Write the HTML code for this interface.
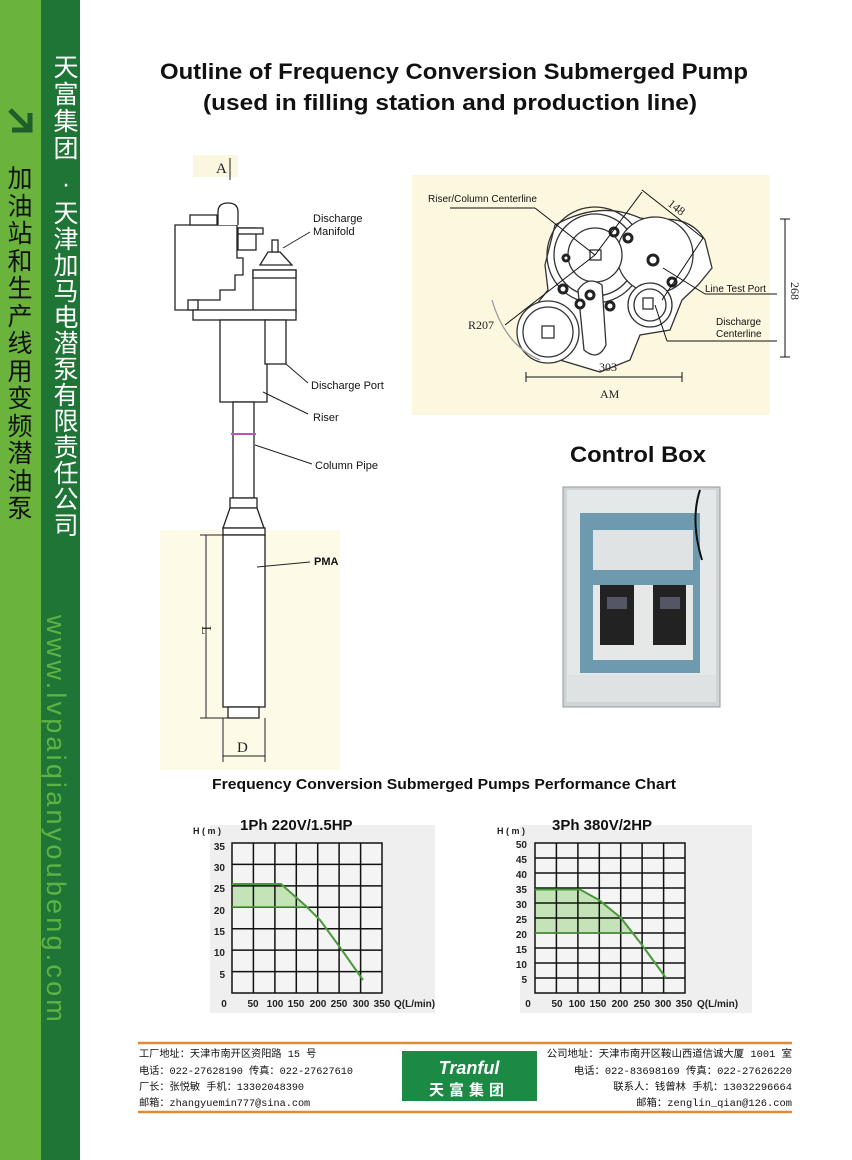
<!DOCTYPE html>
<html><head><meta charset="utf-8"><style>
html,body{margin:0;padding:0;background:#fff;}
svg{display:block;}
</style></head><body>
<svg width="852" height="1160" viewBox="0 0 852 1160" xmlns="http://www.w3.org/2000/svg" font-family="Liberation Sans, sans-serif">
<!-- sidebar -->
<rect x="0" y="0" width="41" height="1160" fill="#6ab33d"/>
<rect x="41" y="0" width="39" height="1160" fill="#1e7535"/>
<path d="M10 110 L30 130 M12 130 L30 130 L30 113" stroke="#1e5e2a" stroke-width="5" fill="none"/>
<g font-family="Liberation Sans, Noto Sans CJK SC, sans-serif" font-size="25" fill="#111" text-anchor="middle">
<text x="20" y="187">加</text><text x="20" y="215">油</text><text x="20" y="242">站</text><text x="20" y="270">和</text><text x="20" y="297">生</text><text x="20" y="325">产</text><text x="20" y="352">线</text><text x="20" y="380">用</text><text x="20" y="407">变</text><text x="20" y="435">频</text><text x="20" y="462">潜</text><text x="20" y="490">油</text><text x="20" y="517">泵</text>
</g>
<g font-family="Liberation Sans, Noto Sans CJK SC, sans-serif" font-size="25" fill="#fff" text-anchor="middle">
<text x="66" y="76">天</text><text x="66" y="103">富</text><text x="66" y="130">集</text><text x="66" y="157">团</text><text x="66" y="192">·</text>
<text x="66" y="222">天</text><text x="66" y="248">津</text><text x="66" y="274">加</text><text x="66" y="300">马</text><text x="66" y="326">电</text><text x="66" y="352">潜</text><text x="66" y="378">泵</text><text x="66" y="404">有</text><text x="66" y="430">限</text><text x="66" y="456">责</text><text x="66" y="482">任</text><text x="66" y="508">公</text><text x="66" y="534">司</text>
</g>
<text transform="translate(47,615) rotate(90)" font-size="27" fill="#5fb244" letter-spacing="3.2">www.lvpaiqianyoubeng.com</text>

<!-- title -->
<text x="160" y="79" font-size="22" font-weight="bold" fill="#111" textLength="588" lengthAdjust="spacingAndGlyphs">Outline of Frequency Conversion Submerged Pump</text>
<text x="203" y="110" font-size="22" font-weight="bold" fill="#111" textLength="494" lengthAdjust="spacingAndGlyphs">(used in filling station and production line)</text>

<!-- pump side view -->
<rect x="193" y="155" width="45" height="22" fill="#fbf6df"/>
<text x="216" y="173" font-family="Liberation Serif, serif" font-size="15" fill="#222">A</text>
<line x1="230" y1="158" x2="230" y2="180" stroke="#222" stroke-width="1"/>
<rect x="160" y="530" width="180" height="240" fill="#fdfae8"/>
<g stroke="#222" stroke-width="1.3" fill="#fff">
<path d="M175 225 L237 225 L237 258 L243 258 L243 275 L235 275 L235 290 L220 290 L220 300 L200 300 L200 300 L193 300 L193 310 L175 310 Z"/>
<path d="M190 215 L217 215 L217 225 L190 225 Z"/>
<path d="M218 225 L218 212 Q218 203 228 203 Q238 203 238 212 L238 225"/>
<rect x="238" y="228" width="18" height="22"/>
<rect x="238" y="228" width="25" height="6"/>
<path d="M260 265 L268 252 L280 252 L292 265 Z"/>
<rect x="272" y="240" width="6" height="12"/>
<rect x="253" y="270" width="43" height="42"/>
<rect x="253" y="270" width="43" height="8"/>
<rect x="188" y="300" width="10" height="10"/>
<rect x="193" y="310" width="103" height="10"/>
<rect x="220" y="320" width="47" height="82"/>
<rect x="265" y="320" width="21" height="44"/>
<rect x="233" y="402" width="21" height="96"/>
<rect x="230" y="498" width="27" height="10"/>
<path d="M230 508 L223 528 L264 528 L257 508 Z"/>
<rect x="223" y="528" width="42" height="7"/>
<rect x="223" y="535" width="42" height="172"/>
<rect x="228" y="707" width="31" height="11"/>
</g>
<line x1="231" y1="434" x2="256" y2="434" stroke="#c050c0" stroke-width="2"/>
<g stroke="#222" stroke-width="1" fill="none">
<line x1="206" y1="535" x2="206" y2="718"/><line x1="200" y1="535" x2="223" y2="535"/><line x1="200" y1="718" x2="228" y2="718"/>
<line x1="223" y1="718" x2="223" y2="762"/><line x1="265" y1="718" x2="265" y2="762"/><line x1="223" y1="756" x2="265" y2="756"/>
<line x1="283" y1="248" x2="310" y2="232"/>
<line x1="286" y1="364" x2="308" y2="383"/>
<line x1="263" y1="392" x2="308" y2="414"/>
<line x1="255" y1="445" x2="312" y2="464"/>
<line x1="257" y1="567" x2="310" y2="562"/>
</g>
<text transform="translate(202,626) rotate(90)" font-family="Liberation Serif, serif" font-size="14" fill="#222">L</text>
<text x="237" y="752" font-family="Liberation Serif, serif" font-size="15" fill="#222">D</text>
<g font-size="11" fill="#111">
<text x="313" y="222">Discharge</text><text x="313" y="235">Manifold</text>
<text x="311" y="389">Discharge  Port</text>
<text x="313" y="421">Riser</text>
<text x="315" y="469">Column Pipe</text>
<text x="314" y="565" font-weight="bold">PMA</text>
</g>

<!-- top view -->
<rect x="412" y="175" width="358" height="240" fill="#fcf7df"/>
<g stroke="#333" stroke-width="1.3" fill="#fff">
<path d="M555 225 Q600 200 640 218 L655 220 Q690 215 705 240 L712 268 L698 285 L682 300 L670 330 L640 335 L630 360 L600 372 L560 360 L530 345 L525 320 L540 300 L548 290 L545 265 Z" fill="#fff"/>
<circle cx="595" cy="255" r="48" fill="none"/>
<circle cx="595" cy="255" r="41" fill="none"/>
<circle cx="655" cy="255" r="38"/>
<circle cx="595" cy="255" r="27"/>
<rect x="590" y="250" width="11" height="10"/>
<circle cx="548" cy="332" r="31"/><circle cx="548" cy="332" r="25"/>
<rect x="542" y="326" width="12" height="12"/>
<circle cx="650" cy="305" r="22"/><circle cx="650" cy="305" r="16"/>
<rect x="643" y="298" width="10" height="11"/>
<path d="M578 290 Q588 275 602 285 L606 345 Q598 362 584 350 Z"/>
</g>
<g fill="#fff" stroke="#222" stroke-width="3">
<circle cx="614" cy="232" r="4"/><circle cx="628" cy="238" r="4"/><circle cx="653" cy="260" r="5"/><circle cx="672" cy="282" r="4"/><circle cx="563" cy="289" r="4"/><circle cx="590" cy="295" r="4"/><circle cx="580" cy="304" r="4"/><circle cx="610" cy="306" r="4"/><circle cx="566" cy="258" r="3"/>
</g>
<path d="M492 300 Q505 345 540 360" stroke="#999" stroke-width="1.3" fill="none"/>
<g stroke="#111" stroke-width="1" fill="none">
<line x1="450" y1="208" x2="535" y2="208"/><line x1="535" y1="208" x2="595" y2="255"/>
<line x1="595" y1="255" x2="642" y2="192"/><line x1="642" y1="190" x2="703" y2="238"/>
<line x1="703" y1="238" x2="662" y2="300"/>
<line x1="505" y1="325" x2="595" y2="255"/>
<line x1="663" y1="268" x2="705" y2="294"/><line x1="705" y1="294" x2="777" y2="294"/>
<line x1="655" y1="305" x2="667" y2="341"/><line x1="667" y1="341" x2="777" y2="341"/>
<line x1="785" y1="219" x2="785" y2="357"/><line x1="780" y1="219" x2="790" y2="219"/><line x1="780" y1="357" x2="790" y2="357"/>
<line x1="526" y1="377" x2="682" y2="377"/><line x1="526" y1="372" x2="526" y2="382"/><line x1="682" y1="372" x2="682" y2="382"/>
</g>
<g font-size="10" fill="#111">
<text x="428" y="202">Riser/Column Centerline</text>
<text x="705" y="292">Line Test Port</text>
<text x="716" y="325">Discharge</text><text x="716" y="337">Centerline</text>
</g>
<g font-family="Liberation Serif, serif" font-size="12" fill="#222">
<text transform="translate(667,205) rotate(38)">148</text>
<text transform="translate(791,282) rotate(90)">268</text>
<text x="599" y="371">303</text>
<text x="600" y="398">AM</text>
<text x="468" y="329">R207</text>
</g>

<!-- control box -->
<text x="570" y="462" font-size="22" font-weight="bold" fill="#111" textLength="136" lengthAdjust="spacingAndGlyphs">Control Box</text>
<rect x="563" y="487" width="157" height="220" fill="#cfd4d6" stroke="#999"/>
<rect x="567" y="490" width="149" height="212" fill="#e4e8e8"/>
<rect x="580" y="513" width="120" height="160" fill="#6e9ab0"/>
<rect x="593" y="530" width="100" height="40" fill="#dfe3e3"/>
<rect x="593" y="585" width="100" height="75" fill="#e6e8e8"/>
<rect x="600" y="585" width="34" height="60" fill="#222"/>
<rect x="653" y="585" width="33" height="60" fill="#222"/>
<rect x="607" y="597" width="20" height="12" fill="#556"/>
<rect x="660" y="597" width="20" height="12" fill="#556"/>
<path d="M700 490 Q690 520 702 560" stroke="#111" stroke-width="2" fill="none"/>
<rect x="568" y="675" width="148" height="27" fill="#dfe2e2"/>

<!-- chart title -->
<text x="212" y="789" font-size="15" font-weight="bold" fill="#111" textLength="464" lengthAdjust="spacingAndGlyphs">Frequency Conversion Submerged Pumps Performance Chart</text>

<!-- chart 1 -->
<rect x="210" y="825" width="225" height="188" fill="#efefef"/>
<text x="240" y="830" font-size="15" font-weight="bold" fill="#111">1Ph 220V/1.5HP</text>
<text x="193" y="834" font-size="9" font-weight="bold" fill="#222">H ( m )</text>
<rect x="232" y="843" width="150" height="150" fill="#f4f4f4"/>
<path d="M232 884 L281 884 L307 907 L232 907 Z" fill="#b8e0a8" opacity="0.8"/>
<g stroke="#111" stroke-width="1.5" fill="none">
<rect x="232" y="843" width="150" height="150"/>
<path d="M253.4 843V993M274.9 843V993M296.3 843V993M317.7 843V993M339.1 843V993M360.6 843V993"/>
<path d="M232 864.4H382M232 885.9H382M232 907.3H382M232 928.7H382M232 950.1H382M232 971.6H382"/>
</g>
<path d="M232 884 L281 884 L307 907 L320 920 L339 946 L363 980" stroke="#4a9a3c" stroke-width="2" fill="none"/>
<line x1="232" y1="907" x2="307" y2="907" stroke="#4a9a3c" stroke-width="1.5"/>
<g font-size="10" font-weight="bold" fill="#222" text-anchor="end">
<text x="225" y="850">35</text><text x="225" y="871">30</text><text x="225" y="892">25</text><text x="225" y="914">20</text><text x="225" y="935">15</text><text x="225" y="956">10</text><text x="225" y="978">5</text>
</g>
<g font-size="10" font-weight="bold" fill="#222" text-anchor="middle">
<text x="224" y="1007">0</text><text x="253" y="1007">50</text><text x="275" y="1007">100</text><text x="296" y="1007">150</text><text x="318" y="1007">200</text><text x="339" y="1007">250</text><text x="361" y="1007">300</text><text x="382" y="1007">350</text>
</g>
<text x="394" y="1007" font-size="10" font-weight="bold" fill="#222">Q(L/min)</text>

<!-- chart 2 -->
<rect x="520" y="825" width="232" height="188" fill="#efefef"/>
<text x="552" y="830" font-size="15" font-weight="bold" fill="#111">3Ph 380V/2HP</text>
<text x="497" y="834" font-size="9" font-weight="bold" fill="#222">H ( m )</text>
<rect x="535" y="843" width="150" height="150" fill="#f4f4f4"/>
<path d="M535 889.5 L580 889.5 L599 900 L621 918 L634 933 L535 933 Z" fill="#b8e0a8" opacity="0.8"/>
<g stroke="#111" stroke-width="1.5" fill="none">
<rect x="535" y="843" width="150" height="150"/>
<path d="M556.4 843V993M577.9 843V993M599.3 843V993M620.7 843V993M642.1 843V993M663.6 843V993"/>
<path d="M535 858H685M535 873H685M535 888H685M535 903H685M535 918H685M535 933H685M535 948H685M535 963H685M535 978H685"/>
</g>
<path d="M535 889.5 L580 889.5 L599 900 L621 918 L642 945 L666 978" stroke="#4a9a3c" stroke-width="2" fill="none"/>
<line x1="535" y1="933" x2="634" y2="933" stroke="#4a9a3c" stroke-width="1.5"/>
<g font-size="10" font-weight="bold" fill="#222" text-anchor="end">
<text x="527" y="848">50</text><text x="527" y="863">45</text><text x="527" y="878">40</text><text x="527" y="893">35</text><text x="527" y="908">30</text><text x="527" y="923">25</text><text x="527" y="938">20</text><text x="527" y="953">15</text><text x="527" y="968">10</text><text x="527" y="983">5</text>
</g>
<g font-size="10" font-weight="bold" fill="#222" text-anchor="middle">
<text x="528" y="1007">0</text><text x="557" y="1007">50</text><text x="577" y="1007">100</text><text x="598" y="1007">150</text><text x="620" y="1007">200</text><text x="642" y="1007">250</text><text x="663" y="1007">300</text><text x="684" y="1007">350</text>
</g>
<text x="697" y="1007" font-size="10" font-weight="bold" fill="#222">Q(L/min)</text>

<!-- footer -->
<line x1="138" y1="1043" x2="792" y2="1043" stroke="#e08a35" stroke-width="2.5"/>
<line x1="138" y1="1112" x2="792" y2="1112" stroke="#e08a35" stroke-width="2.5"/>
<g font-family="Liberation Mono, Noto Sans CJK SC, monospace" font-size="10.2" fill="#111">
<text x="139" y="1057">工厂地址：天津市南开区资阳路 15 号</text>
<text x="139" y="1074">电话：022-27628190  传真：022-27627610</text>
<text x="139" y="1090">厂长：张悦敏  手机：13302048390</text>
<text x="139" y="1106">邮箱：zhangyuemin777@sina.com</text>
</g>
<g font-family="Liberation Mono, Noto Sans CJK SC, monospace" font-size="10.4" fill="#111" text-anchor="end">
<text x="792" y="1057">公司地址：天津市南开区鞍山西道信诚大厦 1001 室</text>
<text x="792" y="1074">电话：022-83698169  传真：022-27626220</text>
<text x="792" y="1090">联系人：钱曾林  手机：13032296664</text>
<text x="792" y="1106">邮箱：zenglin_qian@126.com</text>
</g>
<rect x="402" y="1051" width="135" height="50" fill="#1b8a45"/>
<text x="469" y="1074" font-size="18" font-weight="bold" font-style="italic" fill="#fff" text-anchor="middle">Tranful</text>
<text x="469" y="1095" font-family="Liberation Sans, Noto Sans CJK SC, sans-serif" font-size="15" font-weight="bold" fill="#fff" text-anchor="middle" letter-spacing="5">天富集团</text>
</svg>
</body></html>
